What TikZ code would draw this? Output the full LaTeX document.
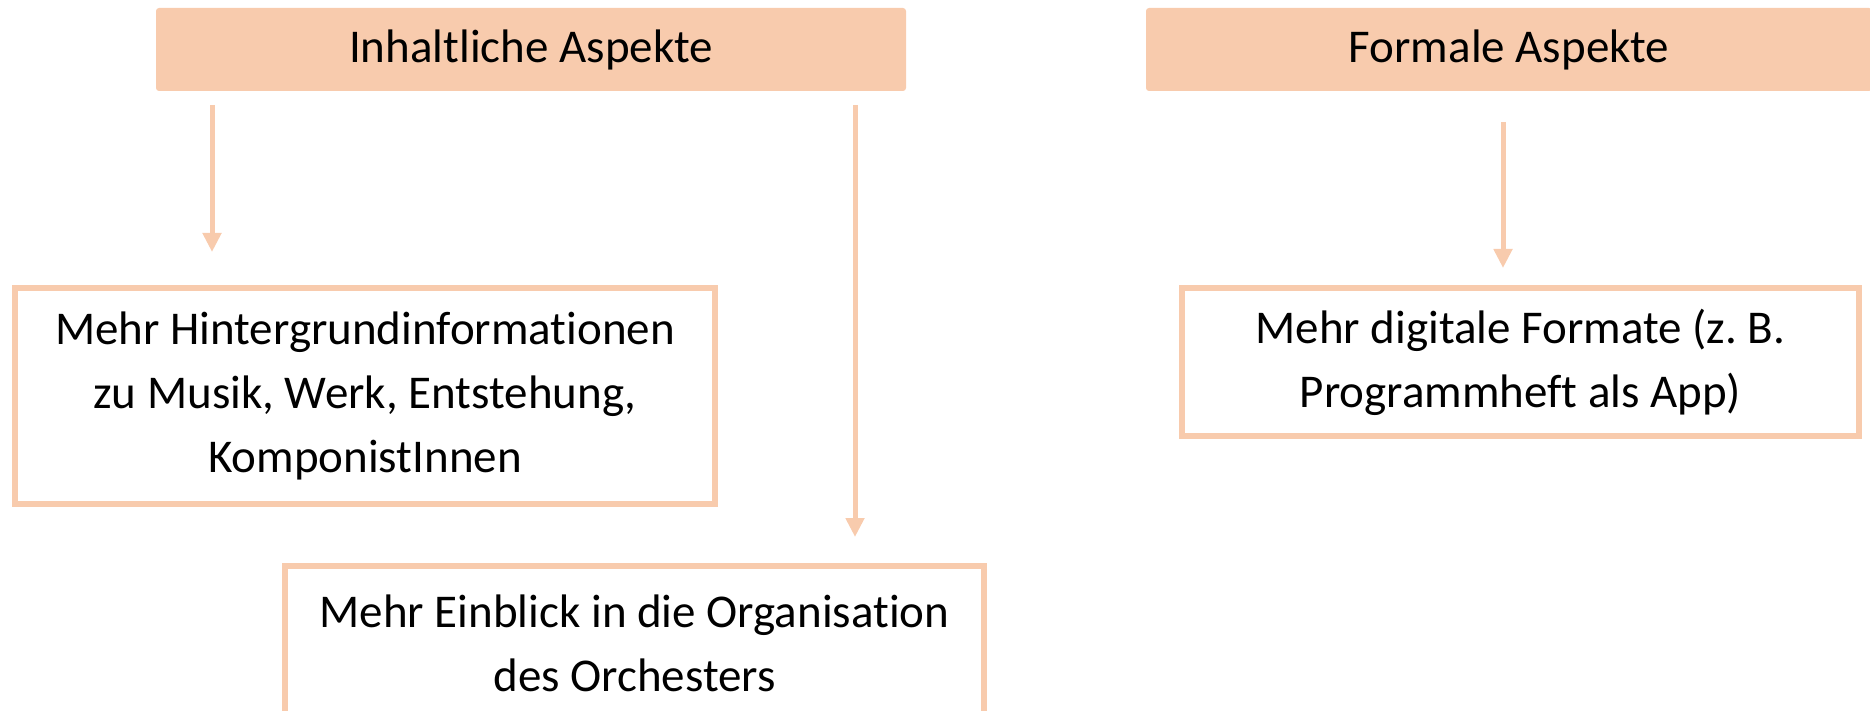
\documentclass[tikz,border=0pt]{standalone}
\usepackage{fontspec}
\setmainfont{Carlito}[Ligatures=NoCommon]
\usetikzlibrary{arrows.meta}
\definecolor{peach}{HTML}{F8CBAD}
\begin{document}
\begin{tikzpicture}[x=1pt,y=-1pt,
  head/.style={fill=peach, draw=none, rounded corners=3pt, inner sep=0pt,
    font=\fontsize{47}{64}\selectfont},
  ibox/.style={draw=peach, line width=6pt, fill=white, align=center, inner sep=0pt,
    font=\fontsize{47}{64}\selectfont},
  conn/.style={draw=peach, line width=5pt, -{Triangle[length=19pt,width=18pt]}}]
\useasboundingbox (0,0) rectangle (1870,711);
\node[head, minimum width=750pt, minimum height=83pt] (A) at (531,49.5) {Inhaltliche Aspekte};
\node[head, minimum width=726pt, minimum height=83pt] (B) at (1509,49.5) {Formale Aspekte};
\node[ibox, minimum width=700pt, minimum height=216pt] (C) at (365,396)
  {Mehr Hintergrundinformationen\\zu Musik, Werk, Entstehung,\\KomponistInnen};
\node[ibox, minimum width=699pt, minimum height=154pt] (D) at (634.5,643)
  {Mehr Einblick in die Organisation\\des Orchesters};
\node[ibox, minimum width=677pt, minimum height=148pt] (E) at (1520.5,362)
  {Mehr digitale Formate (z.\ B.\\Programmheft als App)};
\coordinate (a1s) at (212,105); \coordinate (a1e) at (212,252);
\coordinate (a2s) at (855,105); \coordinate (a2e) at (855,537);
\coordinate (a3s) at (1503,122); \coordinate (a3e) at (1503,268);
\draw[conn] (a1s) -- (a1e);
\draw[conn] (a2s) -- (a2e);
\draw[conn] (a3s) -- (a3e);
\end{tikzpicture}
\end{document}
